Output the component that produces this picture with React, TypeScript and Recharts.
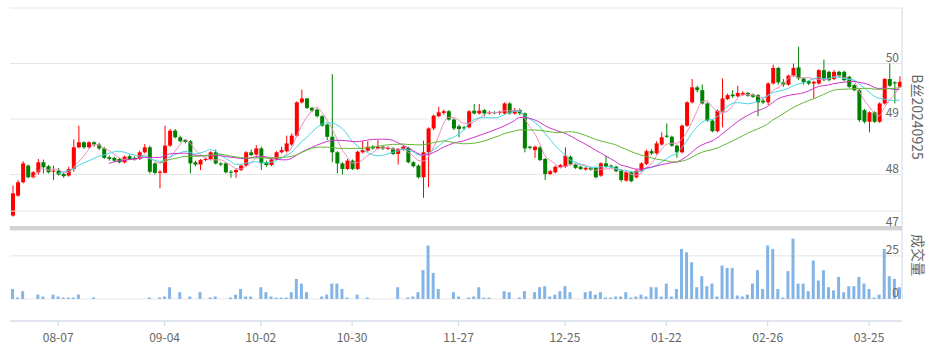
import React from 'react';
import { ComposedChart, Bar, Line, XAxis, YAxis, CartesianGrid, ReferenceLine } from 'recharts';

// ---- data ----
const openVals = [
  47.26, 47.62, 47.86, 48.16, 47.95, 48.04, 48.22, 48.15, 48.06, 48.07,
  48.01, 47.98, 48.10, 48.49, 48.58, 48.49, 48.58, 48.54, 48.47, 48.31,
  48.30, 48.28, 48.22, 48.33, 48.30, 48.28, 48.40, 48.49, 48.20, 48.03,
  48.03, 48.52, 48.79, 48.67, 48.62, 48.60, 48.22, 48.18, 48.26, 48.28,
  48.40, 48.20, 48.20, 48.05, 48.04, 48.08, 48.16, 48.40, 48.36, 48.47,
  48.22, 48.17, 48.28, 48.40, 48.42, 48.54, 48.70, 49.30, 49.37, 49.20,
  49.17, 49.05, 48.90, 48.68, 48.40, 48.20, 48.10, 48.25, 48.10, 48.40,
  48.43, 48.50, 48.47, 48.50, 48.46, 48.47, 48.37, 48.45, 48.48, 48.22,
  48.16, 47.95, 48.40, 48.83, 49.05, 49.11, 49.14, 48.99, 48.87, 48.85,
  48.85, 49.15, 49.10, 49.16, 49.11, 49.12, 49.11, 49.10, 49.28, 49.10,
  49.16, 49.10, 48.50, 48.44, 48.49, 48.28, 48.01, 48.04, 48.13, 48.14,
  48.32, 48.18, 48.14, 48.09, 48.12, 48.12, 47.98, 48.20, 48.16, 48.14,
  48.07, 47.89, 48.04, 47.95, 48.07, 48.19, 48.42, 48.38, 48.54, 48.70,
  48.68, 48.52, 48.40, 48.88, 49.30, 49.57, 49.52, 49.28, 48.97, 48.78,
  49.13, 49.36, 49.44, 49.41, 49.44, 49.47, 49.44, 49.43, 49.33, 49.30,
  49.64, 49.92, 49.66, 49.62, 49.78, 49.93, 49.73, 49.68, 49.64, 49.64,
  49.88, 49.85, 49.72, 49.85, 49.85, 49.76, 49.61, 49.52, 49.16, 48.95,
  49.12, 48.95, 49.28, 49.72, 49.66, 49.58,
];
const highVals = [
  47.80, 47.90, 48.24, 48.18, 48.06, 48.28, 48.27, 48.17, 48.16, 48.12,
  48.03, 48.14, 48.63, 48.88, 48.60, 48.60, 48.60, 48.57, 48.50, 48.34,
  48.32, 48.30, 48.34, 48.36, 48.33, 48.43, 48.55, 48.52, 48.22, 48.08,
  48.88, 48.82, 48.82, 48.70, 48.64, 48.62, 48.25, 48.28, 48.31, 48.42,
  48.45, 48.22, 48.22, 48.08, 48.10, 48.18, 48.42, 48.45, 48.53, 48.50,
  48.25, 48.30, 48.42, 48.50, 48.70, 48.74, 49.32, 49.53, 49.38, 49.22,
  49.19, 49.07, 48.92, 49.81, 48.42, 48.22, 48.28, 48.27, 48.43, 48.60,
  48.60, 48.53, 48.62, 48.52, 48.51, 48.49, 48.48, 48.52, 48.50, 48.24,
  48.18, 48.61, 48.85, 49.08, 49.22, 49.17, 49.16, 49.01, 48.90, 48.88,
  49.16, 49.27, 49.27, 49.18, 49.15, 49.14, 49.15, 49.30, 49.30, 49.20,
  49.19, 49.12, 48.52, 48.52, 48.51, 48.30, 48.08, 48.16, 48.19, 48.49,
  48.34, 48.20, 48.16, 48.14, 48.14, 48.14, 48.22, 48.34, 48.18, 48.16,
  48.09, 48.06, 48.06, 48.09, 48.22, 48.45, 48.46, 48.60, 48.76, 48.92,
  48.70, 48.54, 48.90, 49.32, 49.72, 49.60, 49.62, 49.30, 48.99, 49.17,
  49.73, 49.46, 49.52, 49.60, 49.50, 49.49, 49.46, 49.45, 49.36, 49.66,
  49.98, 49.94, 49.72, 49.80, 50.00, 50.30, 49.75, 49.70, 49.69, 49.90,
  50.07, 49.87, 49.88, 49.87, 49.87, 49.78, 49.63, 49.54, 49.18, 49.14,
  49.14, 49.30, 49.74, 50.00, 49.68, 49.77,
];
const lowVals = [
  47.24, 47.60, 47.84, 47.93, 47.93, 48.00, 48.02, 48.02, 47.90, 47.98,
  47.94, 47.96, 48.05, 48.47, 48.46, 48.47, 48.50, 48.44, 48.28, 48.25,
  48.22, 48.20, 48.20, 48.26, 48.25, 48.26, 48.38, 48.02, 48.00, 47.75,
  48.02, 48.50, 48.65, 48.58, 48.56, 48.02, 48.15, 48.08, 48.24, 48.26,
  48.18, 48.15, 48.02, 47.94, 47.94, 48.06, 48.14, 48.33, 48.34, 48.08,
  48.14, 48.15, 48.26, 48.38, 48.40, 48.52, 48.68, 49.28, 49.18, 49.12,
  49.03, 48.86, 48.62, 48.22, 48.02, 48.00, 48.08, 48.08, 48.08, 48.38,
  48.41, 48.45, 48.45, 48.44, 48.44, 48.35, 48.18, 48.43, 48.20, 48.13,
  47.93, 47.58, 47.77, 48.80, 49.03, 49.08, 48.97, 48.80, 48.67, 48.80,
  48.83, 49.08, 49.08, 49.05, 49.08, 49.09, 49.08, 49.08, 49.08, 49.08,
  49.07, 48.40, 48.45, 48.30, 48.24, 47.90, 47.99, 48.02, 48.11, 48.12,
  48.16, 48.10, 48.08, 48.07, 48.07, 47.93, 47.96, 48.12, 48.12, 48.04,
  47.87, 47.87, 47.86, 47.93, 48.05, 48.17, 48.35, 48.36, 48.52, 48.66,
  48.50, 48.30, 48.38, 48.86, 49.28, 49.48, 49.26, 48.95, 48.76, 48.76,
  48.85, 49.34, 49.38, 49.39, 49.42, 49.40, 49.38, 49.05, 49.27, 49.25,
  49.62, 49.62, 49.58, 49.60, 49.76, 49.70, 49.62, 49.61, 49.37, 49.62,
  49.68, 49.68, 49.70, 49.75, 49.68, 49.56, 49.50, 48.95, 48.92, 48.76,
  48.93, 48.93, 49.26, 49.58, 49.28, 49.56,
];
const closeVals = [
  47.66, 47.86, 48.20, 47.95, 48.04, 48.22, 48.13, 48.04, 48.07, 48.00,
  47.97, 48.10, 48.49, 48.58, 48.49, 48.58, 48.54, 48.47, 48.30, 48.28,
  48.25, 48.22, 48.32, 48.28, 48.27, 48.40, 48.49, 48.05, 48.03, 48.05,
  48.52, 48.79, 48.67, 48.60, 48.59, 48.20, 48.18, 48.26, 48.28, 48.40,
  48.20, 48.18, 48.04, 48.04, 48.08, 48.16, 48.40, 48.35, 48.47, 48.20,
  48.17, 48.27, 48.40, 48.44, 48.56, 48.70, 49.30, 49.37, 49.20, 49.15,
  49.05, 48.88, 48.68, 48.40, 48.20, 48.10, 48.25, 48.10, 48.41, 48.44,
  48.50, 48.47, 48.50, 48.47, 48.48, 48.37, 48.46, 48.50, 48.22, 48.15,
  47.95, 48.40, 48.83, 49.06, 49.12, 49.14, 48.99, 48.83, 48.82, 48.84,
  49.14, 49.10, 49.15, 49.10, 49.12, 49.11, 49.13, 49.28, 49.10, 49.16,
  49.10, 48.47, 48.48, 48.50, 48.26, 48.01, 48.06, 48.14, 48.17, 48.34,
  48.18, 48.12, 48.10, 48.12, 48.09, 47.95, 48.20, 48.14, 48.14, 48.06,
  47.90, 48.04, 47.88, 48.07, 48.20, 48.42, 48.38, 48.56, 48.67, 48.68,
  48.52, 48.40, 48.88, 49.30, 49.57, 49.52, 49.28, 48.97, 48.78, 49.15,
  49.37, 49.43, 49.41, 49.47, 49.47, 49.42, 49.40, 49.30, 49.30, 49.64,
  49.92, 49.66, 49.62, 49.78, 49.92, 49.73, 49.66, 49.64, 49.67, 49.88,
  49.70, 49.70, 49.85, 49.78, 49.70, 49.58, 49.52, 48.98, 48.95, 49.12,
  48.95, 49.28, 49.72, 49.60, 49.64, 49.67,
];
const volumeVals = [
  5.8, 0.8, 4.5, 0, 0, 2.5, 1.4, 0, 2.5, 1.4,
  0.8, 0.8, 0.8, 2.5, 0, 0, 0.8, 0, 0, 0,
  0, 0, 0, 0, 0, 0, 0, 0.8, 0, 0.8,
  1.4, 6.8, 0, 3.9, 0, 1.4, 0, 3.9, 0, 0.8,
  1.4, 0, 0, 0.8, 2.5, 5.8, 1.4, 1.4, 0, 6.8,
  3.9, 1.4, 0.8, 0.8, 0.8, 3.9, 11.6, 8.9, 3.9, 0,
  0, 1.4, 2.5, 8.9, 8.9, 5.8, 0.8, 0, 2.5, 0,
  0.8, 0, 0, 0, 0, 0, 6.8, 0, 0.8, 1.4,
  3.9, 16.7, 31, 15.1, 5.8, 0, 0, 3.9, 1.4, 0,
  0.8, 1.4, 6.8, 0.8, 0.8, 0, 0, 4.5, 3.9, 0,
  0.8, 4.5, 0, 3.9, 6.8, 7.4, 1.4, 2.5, 4.5, 7.4,
  3.9, 0, 0, 3.9, 4.5, 2.5, 3.9, 0.8, 0.8, 1.4,
  1.4, 3.9, 0.8, 1.4, 2.5, 1.4, 6.8, 6.8, 1.4, 8.9,
  1.4, 5.8, 29, 27.1, 21.3, 6.8, 13.2, 7.4, 8.9, 1.4,
  19.4, 18, 18, 2.0, 1.4, 2.5, 8.9, 16.7, 5.8, 31,
  29, 5.8, 0.8, 16.1, 35, 8.9, 8.9, 4.5, 22.3, 10.7,
  16.7, 6.8, 5.0, 12.8, 3.9, 7.4, 7.4, 12.8, 8.9, 5.8,
  0.8, 2.5, 29, 13.2, 11.6, 6.8,
];
const tickIndex = [9, 30, 49, 67, 88, 109, 129, 149, 169];
const tickLabels = ['08-07', '09-04', '10-02', '10-30', '11-27', '12-25', '01-22', '02-26', '03-25'];
const maPeriods = [5, 10, 20, 30];
const maColors = ['#ef8cbc', '#45d6e4', '#cc33cc', '#62b832'];
const priceTicks = [47, 48, 49, 50, 51];
const volumeTicks = [0, 25];
const priceAxisName = 'B丝20240925';
const volumeAxisName = '成交量';

const UP = '#ff0000';
const DOWN = '#008000';
const GRID = '#e6e6e6';
const AXIS = '#ccd6eb';
const TEXT = '#666';
const FONT = '"Noto Sans CJK SC", "Noto Sans", sans-serif';

function movingAverage(vals: number[], n: number): (number | null)[] {
  return vals.map((_, i) => {
    if (i < n - 1) return null;
    let s = 0;
    for (let k = i - n + 1; k <= i; k++) s += vals[k];
    return s / n;
  });
}
const maSeries = maPeriods.map((p) => movingAverage(closeVals, p));

const data = closeVals.map((c, i) => {
  const row: any = {
    i,
    open: openVals[i],
    high: highVals[i],
    low: lowVals[i],
    close: c,
    range: [lowVals[i], highVals[i]],
    vol: volumeVals[i],
  };
  maPeriods.forEach((p, k) => {
    row['ma' + p] = maSeries[k][i];
  });
  return row;
});

const Candle = (props: any) => {
  const { x, y, width, height, index } = props;
  const d = props.payload && props.payload.open != null ? props.payload : data[index];
  if (x == null || y == null || !d) return null;
  const { open, close, high, low } = d;
  const span = high - low;
  const toY = (v: number) => (span > 0 ? y + ((high - v) / span) * height : y);
  const up = close >= open;
  const color = up ? UP : DOWN;
  const top = toY(Math.max(open, close));
  const bot = toY(Math.min(open, close));
  const cx = x + width / 2;
  return (
    <g>
      <line x1={cx} x2={cx} y1={y} y2={y + height} stroke={color} strokeWidth={1} />
      <rect x={x} y={top} width={width} height={Math.max(1, bot - top)} fill={color} />
    </g>
  );
};

const RightTick = (props: any) => {
  const { x, y, payload, hideValues, extraDy } = props;
  if (hideValues && hideValues.indexOf(payload.value) >= 0) return null;
  const dy = extraDy && extraDy[payload.value] != null ? extraDy[payload.value] : -2;
  return (
    <text x={x} y={y} dy={dy} textAnchor="end" fill={TEXT} fontSize={12} fontFamily={FONT}>
      {payload.value}
    </text>
  );
};

export default function App() {
  return (
    <div style={{ position: 'absolute', left: 0, top: 0, width: 932, height: 353, background: '#fff', fontFamily: FONT }}>
      <div style={{ position: 'absolute', left: 0, top: 0 }}>
        <ComposedChart width={932} height={232} data={data} margin={{ top: 8, right: 30, bottom: 2, left: 10 }}>
          <CartesianGrid horizontal vertical={false} stroke={GRID} />
          <XAxis dataKey="i" type="category" hide />
          <YAxis
            orientation="right"
            mirror
            domain={[47, 51]}
            ticks={priceTicks}
            interval={0}
            allowDataOverflow
            axisLine={{ stroke: AXIS }}
            tickLine={false}
            tickSize={0}
            tickMargin={3}
            tick={<RightTick hideValues={[51]} extraDy={{ 47: -4 }} />}
          />
          <ReferenceLine y={47.34} stroke={GRID} />
          <Bar dataKey="range" barSize={4} shape={<Candle />} isAnimationActive={false} />
          {maPeriods.map((p, k) => (
            <Line
              key={p}
              dataKey={'ma' + p}
              type="monotone"
              stroke={maColors[k]}
              strokeWidth={1}
              dot={false}
              activeDot={false}
              isAnimationActive={false}
            />
          ))}
        </ComposedChart>
      </div>
      <div style={{ position: 'absolute', left: 0, top: 230 }}>
        <ComposedChart width={932} height={123} data={data} margin={{ top: 0, right: 30, bottom: 0, left: 10 }}>
          <CartesianGrid horizontal vertical={false} stroke={GRID} />
          <XAxis
            dataKey="i"
            type="category"
            ticks={tickIndex}
            interval={0}
            height={32}
            tickFormatter={(v: any) => {
              const k = tickIndex.indexOf(Number(v));
              return k >= 0 ? tickLabels[k] : '';
            }}
            axisLine={{ stroke: AXIS }}
            tickLine={{ stroke: AXIS }}
            tickSize={5}
            tickMargin={7}
            tick={{ fill: TEXT, fontSize: 12, fontFamily: FONT }}
          />
          <YAxis
            orientation="right"
            mirror
            domain={[-12.8, 40]}
            ticks={volumeTicks}
            interval={0}
            allowDataOverflow
            axisLine={false}
            tickLine={false}
            tickSize={0}
            tickMargin={3}
            tick={<RightTick />}
          />
          <Bar dataKey="vol" fill="#82b4e6" barSize={3} isAnimationActive={false} />
        </ComposedChart>
      </div>
      <svg width={932} height={353} style={{ position: 'absolute', left: 0, top: 0, pointerEvents: 'none' }}>
        <rect x={10} y={226} width={892} height={4} fill="#d3d3d3" />
        <line x1={902} x2={902} y1={230} y2={299} stroke={AXIS} />
        <text
          transform="translate(918,117) rotate(90)"
          textAnchor="middle"
          dominantBaseline="central"
          fontSize={14}
          fill={TEXT}
          fontFamily={FONT}
        >
          {priceAxisName}
        </text>
        <text
          transform="translate(919,255) rotate(90)"
          textAnchor="middle"
          dominantBaseline="central"
          fontSize={14}
          fill={TEXT}
          fontFamily={FONT}
        >
          {volumeAxisName}
        </text>
      </svg>
    </div>
  );
}
